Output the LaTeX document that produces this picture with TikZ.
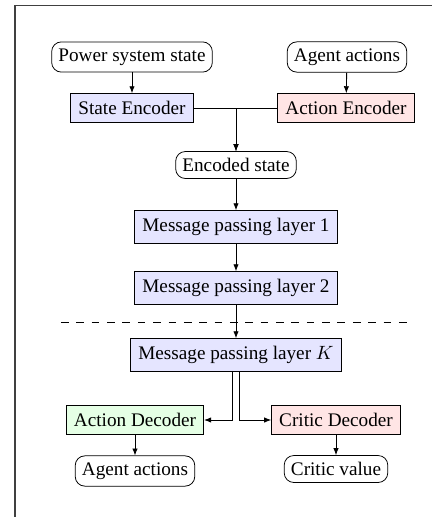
\documentclass[tikz,border=0pt]{standalone}
\usepackage{fontspec}
\setmainfont{Liberation Serif}
\usetikzlibrary{arrows.meta}
\begin{document}
\begin{tikzpicture}[x=0.5208pt,y=-0.5208pt,
  >={Latex[length=3.6pt,width=2.8pt]},
  io/.style={draw, rounded corners=5pt, inner sep=3.5pt, font=\fontsize{10}{12}\selectfont},
  blk/.style={draw, inner sep=4pt, font=\fontsize{10}{12}\selectfont},
  blueblk/.style={blk, fill=blue!10},
  redblk/.style={blk, fill=red!10},
  greenblk/.style={blk, fill=green!10},
  conn/.style={->, line width=0.45pt}]
\useasboundingbox (0,0) rectangle (432,517);
\draw[line width=0.9pt, black!75] (15,517) -- (15,5.5) -- (432,5.5);

\node[io] (pss) at (132,57) {Power system state};
\node[io] (aa1) at (347,57) {Agent actions};
\node[blueblk] (se) at (132,108) {State Encoder};
\node[redblk] (ae) at (346,108) {Action Encoder};
\node[io] (es) at (236,165) {Encoded state};
\node[blueblk] (mp1) at (236,227) {Message passing layer 1};
\node[blueblk] (mp2) at (236,288) {Message passing layer 2};
\node[blueblk] (mpk) at (236,355) {Message passing layer $K$};
\node[greenblk] (ad) at (135,420) {Action Decoder};
\node[redblk] (cd) at (336,420) {Critic Decoder};
\node[io] (aa2) at (135,471) {Agent actions};
\node[io] (cv) at (336,469) {Critic value};
\coordinate (dl) at (61,322);
\coordinate (dr) at (408,322);

\draw[conn] (pss) -- (se);
\draw[conn] (aa1) -- (ae);
\draw[conn] (se.east) -| (es.north);
\draw[conn] (ae.west) -| (es.north);
\draw[conn] (es) -- (mp1);
\draw[conn] (mp1) -- (mp2);
\draw[conn] (mp2) -- (mpk);
\draw[line width=0.45pt, dash pattern=on 4pt off 4pt] (dl) -- (dr);
\draw[conn] ([xshift=-1.6pt]mpk.south) |- (ad.east);
\draw[conn] ([xshift=1.6pt]mpk.south) |- (cd.west);
\draw[conn] (ad) -- (aa2);
\draw[conn] (cd) -- (cv);
\end{tikzpicture}
\end{document}
